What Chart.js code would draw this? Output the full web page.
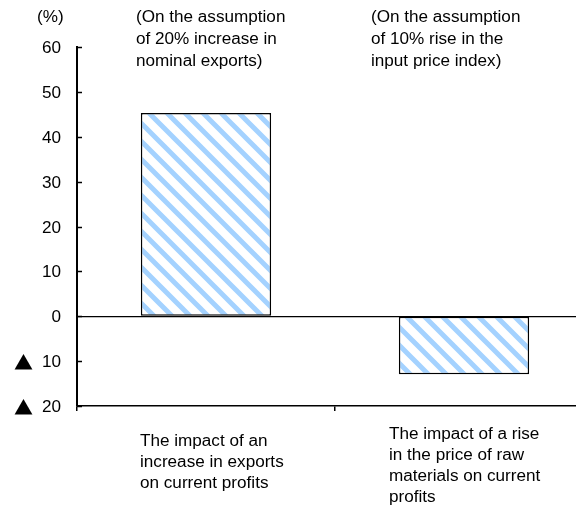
<!DOCTYPE html>
<html>
<head>
<meta charset="utf-8">
<script src="https://cdn.jsdelivr.net/npm/chart.js@4/dist/chart.umd.min.js"></script>
<style>
  html, body { margin: 0; padding: 0; background: #fff; overflow: hidden; }
  #wrap { width: 600px; height: 505px; }
</style>
</head>
<body>
<div id="wrap"><canvas id="myChart" width="600" height="505"></canvas></div>
<script>
// data block
const categories = [
  ["The impact of an", "increase in exports", "on current profits"],
  ["The impact of a rise", "in the price of raw", "materials on current", "profits"]
];
const notes = [
  ["(On the assumption", "of 20% increase in", "nominal exports)"],
  ["(On the assumption", "of 10% rise in the", "input price index)"]
];
const values = [45.3, -12.9];
const yTicks = [60, 50, 40, 30, 20, 10, 0, -10, -20];
const unitLabel = "(%)";

const FONT = "16px 'Liberation Sans', Arial, sans-serif";
const STRETCH = 1.07; // the source text is a bit wider than Arial

// hatch pattern
function makeHatch() {
  const size = 18;
  const c = document.createElement("canvas");
  c.width = size; c.height = size;
  const g = c.getContext("2d");
  g.fillStyle = "#fff";
  g.fillRect(0, 0, size, size);
  g.strokeStyle = "#a4d2ff";
  g.lineWidth = 5;
  g.beginPath();
  for (let k = -1; k <= 1; k++) {
    g.moveTo(k * size - 2, -2);
    g.lineTo(k * size + size + 2, size + 2);
  }
  g.stroke();
  return g.createPattern(c, "repeat");
}

function wideText(ctx, t, x, y, align) {
  ctx.save();
  ctx.translate(x, y);
  ctx.scale(STRETCH, 1);
  ctx.textAlign = align || "left";
  ctx.fillText(t, 0, 0);
  ctx.restore();
}

// plugin - text and inner ticks
const extras = {
  id: "extras",
  afterDraw(chart) {
    const ctx = chart.ctx;
    const x = chart.scales.x;
    const y = chart.scales.y;
    const left = chart.chartArea.left;
    ctx.save();
    ctx.strokeStyle = "#000";
    ctx.lineWidth = 1.5;
    ctx.fillStyle = "#000";
    ctx.textBaseline = "middle";
    yTicks.forEach(v => {
      const py = Math.round(y.getPixelForValue(v)) + 0.5;
      ctx.beginPath();
      ctx.moveTo(left, py);
      ctx.lineTo(left + 5, py);
      ctx.stroke();
      ctx.font = FONT;
      wideText(ctx, String(Math.abs(v)), 61, py + 1, "right");
      if (v < 0) {
        ctx.font = "19px 'Noto Sans CJK JP', sans-serif";
        ctx.textAlign = "right";
        ctx.fillText("\u25B2", 33, py + 1);
      }
    });
    ctx.font = FONT;
    wideText(ctx, unitLabel, 37, 18);
    const noteOffsets = [-70, -93];
    notes.forEach((lines, i) => {
      const cx = x.getPixelForValue(i);
      lines.forEach((t, j) => wideText(ctx, t, cx + noteOffsets[i], 18 + j * 22));
    });
    const labOffsets = [-66, -75];
    const labTop = [442, 435];
    categories.forEach((lines, i) => {
      const cx = x.getPixelForValue(i);
      lines.forEach((t, j) => wideText(ctx, t, cx + labOffsets[i], labTop[i] + j * 20.7));
    });
    ctx.restore();
  }
};

// config block
const config = {
  type: "bar",
  data: {
    labels: categories.map(c => c.join(" ")),
    datasets: [{
      data: values,
      backgroundColor: makeHatch(),
      borderColor: "#000",
      borderWidth: 1.5,
      borderSkipped: false,
      categoryPercentage: 1,
      barPercentage: 0.505
    }]
  },
  options: {
    responsive: false,
    animation: false,
    layout: { padding: { left: 0, right: 7, top: 47, bottom: 94 } },
    plugins: { legend: { display: false }, tooltip: { enabled: false } },
    scales: {
      x: {
        offset: true,
        border: { color: "#000", width: 1.5 },
        grid: { offset: true, drawOnChartArea: false, tickLength: 5, color: "#000", lineWidth: 1.5 },
        ticks: { display: false },
        afterFit(s) { s.height = 5; }
      },
      y: {
        min: -20, max: 60,
        border: { color: "#000", width: 2 },
        grid: {
          drawTicks: false,
          color: c => (c.tick && c.tick.value === 0 ? "#000" : "rgba(0,0,0,0)"),
          lineWidth: 1.2
        },
        ticks: { stepSize: 10, display: false },
        afterFit(s) { s.width = 77; }
      }
    }
  },
  plugins: [extras]
};

// render init block
const myChart = new Chart(document.getElementById("myChart"), config);
</script>
</body>
</html>
